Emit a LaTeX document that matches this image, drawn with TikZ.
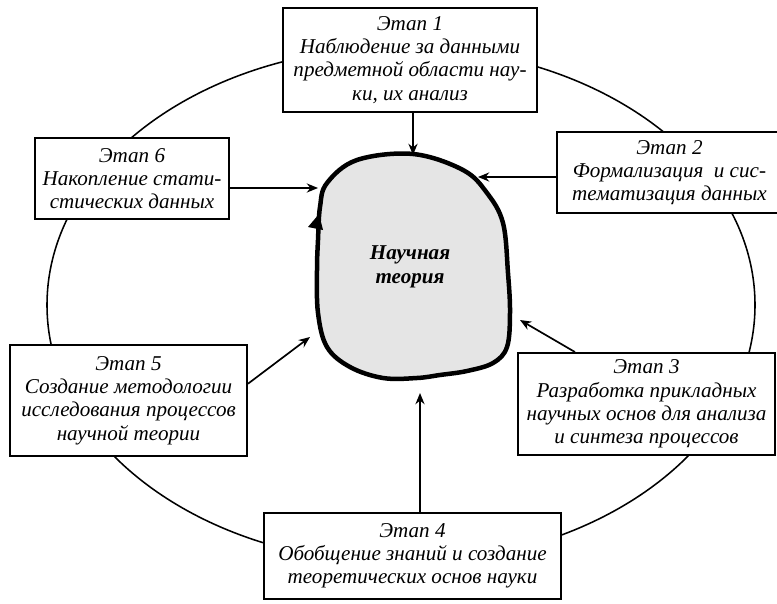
\documentclass[tikz,border=0pt]{standalone}
\usepackage{fontspec}
\setmainfont{Liberation Serif}
\usetikzlibrary{arrows.meta}

\begin{document}
\begin{tikzpicture}[x=0.025cm, y=-0.025cm, >={Stealth[length=8pt,width=6.5pt]},
    stage/.style={draw, line width=1.4pt, fill=white, align=center, inner sep=2pt,
        font=\fontsize{15}{16.5}\selectfont\itshape},
    feed/.style={->, line width=1.2pt}]
    \useasboundingbox (0,0) rectangle (777,604);

    % Outer ring through all stages
    \draw[line width=1.1pt] (401,305) ellipse [x radius=354, y radius=258];

    % Central blob
    \draw[line width=3.2pt, fill=gray!20] plot[smooth cycle, tension=0.6] coordinates {
        (413,154) (463,170) (487,193) (503,223) (508,273) (510,313) (507,347)
        (493,363) (467,371) (440,375) (417,378) (383,378) (350,367) (327,347)
        (318,313) (317,270) (318,240) (320,207) (327,183) (357,160)};
    \fill (319,214) -- (308,227) -- (323,230) -- cycle;
    \node[font=\fontsize{15}{17}\selectfont\bfseries\itshape, align=center] (theory)
        at (410,267) {Научная\\теория};

    % Points on the blob edge
    \coordinate (t1) at (413,155);
    \coordinate (t2) at (478,177);
    \coordinate (t3) at (520,320);
    \coordinate (t4) at (420,393);
    \coordinate (t5) at (310,337);
    \coordinate (t6) at (318,188);

    % Stages
    \node[stage, minimum width=6.35cm, minimum height=2.6cm] (b1) at (410,60)
        {Этап 1\\Наблюдение за данными\\предметной области нау-\\ки, их анализ};
    \node[stage, minimum width=5.625cm, minimum height=2.025cm] (b2) at (669.5,172.5)
        {Этап 2\\Формализация\ \ и сис-\\тематизация данных};
    \node[stage, minimum width=6.425cm, minimum height=2.55cm] (b3) at (646.5,404)
        {Этап 3\\Разработка прикладных\\научных основ для анализа\\и синтеза процессов};
    \node[stage, minimum width=7.425cm, minimum height=2.15cm] (b4) at (412.5,556)
        {Этап 4\\Обобщение знаний и создание\\теоретических основ науки};
    \node[stage, minimum width=5.925cm, minimum height=2.775cm] (b5) at (128.5,400.5)
        {Этап 5\\Создание методологии\\исследования процессов\\научной теории};
    \node[stage, minimum width=4.85cm, minimum height=2.025cm] (b6) at (132,178.5)
        {Этап 6\\Накопление стати-\\стических данных};

    % Arrows into the theory
    \draw[feed] (t1 |- b1.south) -- (t1);
    \draw[feed] (b2.west |- t2) -- (t2);
    \draw[feed] (b3.144) -- (t3);
    \draw[feed] (t4 |- b4.north) -- (t4);
    \draw[feed] (b5.8) -- (t5);
    \draw[feed] (b6.east |- t6) -- (t6);
\end{tikzpicture}
\end{document}
